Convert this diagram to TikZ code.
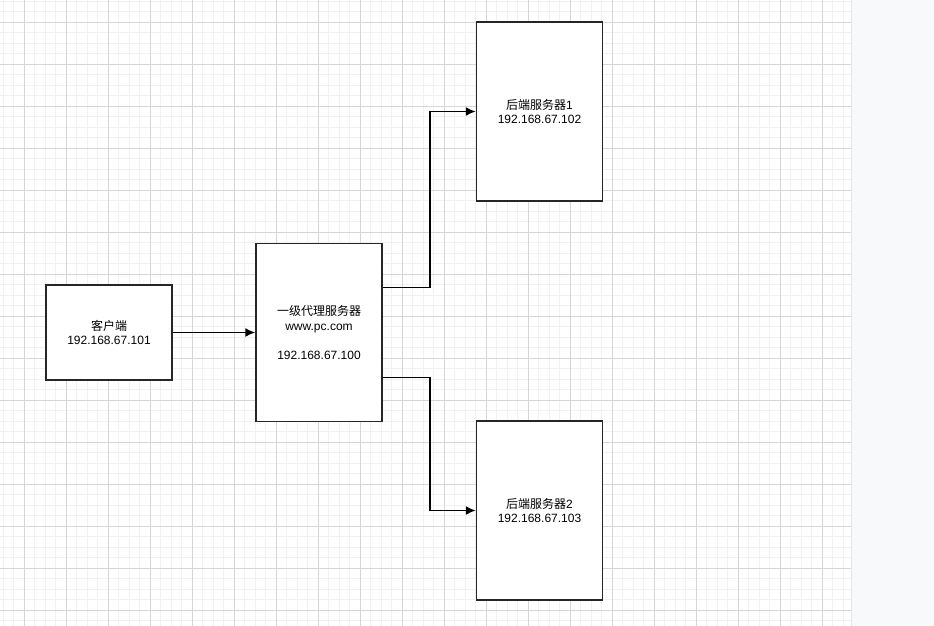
\documentclass[tikz,border=0pt]{standalone}
\usepackage{fontspec}
\setmainfont{Liberation Sans}
\newfontfamily\cjk{Noto Sans CJK SC}
\usetikzlibrary{arrows.meta,calc}
\definecolor{minorline}{HTML}{F1F1F1}
\definecolor{majorline}{HTML}{D6D6D6}
\definecolor{panelgray}{HTML}{F8F9FA}
\definecolor{panelline}{HTML}{E6E6E6}

\begin{document}
\begin{tikzpicture}[x=1pt,y=-1pt,
  server/.style={draw=black!85,line width=1.5pt,fill=white,minimum width=126pt,
    align=center,inner sep=0pt,font=\fontsize{12}{14.5}\selectfont},
  link/.style={line width=1.5pt,-{Latex[length=10pt,width=9pt]}}]

      \useasboundingbox (0,0) rectangle (934,626);

      % grid
      \fill[white] (0,0) rectangle (851,626);
      \foreach \i in {-2,...,78}
        \draw[minorline,line width=0.8pt] ({24.3+10.5*\i},0) -- ({24.3+10.5*\i},626);
      \foreach \j in {-2,...,57}
        \draw[minorline,line width=0.8pt] (0,{22.3+10.5*\j}) -- (851,{22.3+10.5*\j});
      \foreach \i in {0,...,19}
        \draw[majorline,line width=0.8pt] ({24.3+42*\i},0) -- ({24.3+42*\i},626);
      \foreach \j in {0,...,14}
        \draw[majorline,line width=0.8pt] (0,{22.3+42*\j}) -- (851,{22.3+42*\j});

      % side panel
      \fill[panelgray] (851,0) rectangle (934,626);
      \draw[panelline,line width=1pt] (851.5,0) -- (851.5,626);

      \draw[majorline,line width=1pt] (203,316) -- (403,316);

      % boxes
      \node[server,minimum height=95pt] (client) at (109,332.5)
        {{\cjk 客户端}\\192.168.67.101};
      \node[server,minimum height=178pt] (proxy) at (319,332.5)
        {{\cjk 一级代理服务器}\\www.pc.com\\[14.5pt]192.168.67.100};
      \node[server,minimum height=179pt] (back1) at (539.5,111.5)
        {{\cjk 后端服务器}1\\192.168.67.102};
      \node[server,minimum height=179pt] (back2) at (539.5,510.5)
        {{\cjk 后端服务器}2\\192.168.67.103};

      % links
      \draw[link] (client.east) -- (proxy.west);
      \draw[link] ($(proxy.north east)!0.25!(proxy.south east)$) -- ++(47,0) |- (back1.west);
      \draw[link] ($(proxy.north east)!0.75!(proxy.south east)$) -- ++(47,0) |- (back2.west);

    \end{tikzpicture}
\end{document}
